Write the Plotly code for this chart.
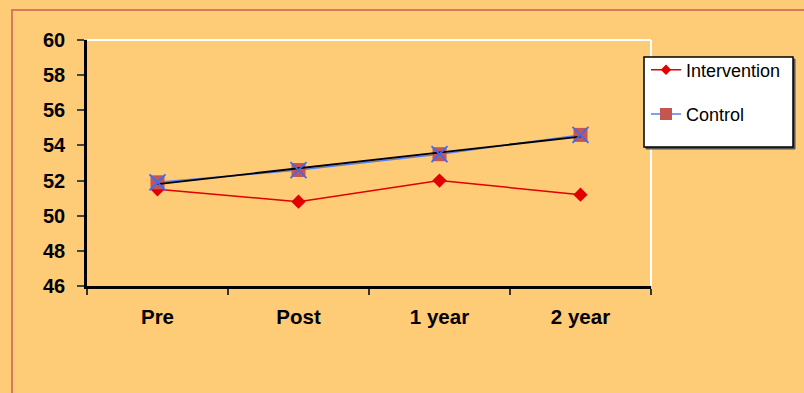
import numpy as np
import plotly.graph_objects as go

categories = ["Pre", "Post", "1 year", "2 year"]
intervention = [51.5, 50.8, 52.0, 51.2]
control = [51.9, 52.6, 53.5, 54.6]
y_ticks = [46, 48, 50, 52, 54, 56, 58, 60]

# linear trend of the control series (as in the source spreadsheet chart)
xi = np.arange(len(control))
slope, icpt = np.polyfit(xi, control, 1)
trend = list(icpt + slope * xi)

BG = "#FECB76"
RED = "#E00000"
SQ = "#C4554F"
BLUE = "#5A7FF0"
W, H = 804, 393
L, R, T, B = 87, 651, 40, 286
pw, ph = R - L, B - T
FONT = "Liberation Sans, Arial"

def px(x):
    return (x - L) / pw

def py(y):
    return (B - y) / ph

fig = go.Figure()
fig.add_trace(go.Scatter(
    x=categories, y=intervention, name="Intervention", mode="lines+markers",
    line=dict(color=RED, width=1.5),
    marker=dict(symbol="diamond", size=11, color=RED),
    showlegend=False))
fig.add_trace(go.Scatter(
    x=categories, y=control, name="Control", mode="lines+markers",
    line=dict(color=BLUE, width=1.5),
    marker=dict(symbol="square", size=14, color=SQ),
    showlegend=False))
fig.add_trace(go.Scatter(
    x=categories, y=trend, mode="lines", showlegend=False,
    line=dict(color="black", width=1.8), hoverinfo="skip"))
fig.add_trace(go.Scatter(
    x=categories, y=control, mode="markers", showlegend=False,
    marker=dict(symbol="x-thin", size=16, line=dict(color="#3A6BFF", width=1.8))))
# legend entries (smaller symbols, as in the source legend)
fig.add_trace(go.Scatter(
    x=[None], y=[None], name="Intervention", mode="lines+markers",
    line=dict(color=RED, width=1.5),
    marker=dict(symbol="diamond", size=8, color=RED), legendgroup="a"))
fig.add_trace(go.Scatter(
    x=[None], y=[None], name="Control", mode="lines+markers",
    line=dict(color=BLUE, width=1.5),
    marker=dict(symbol="square", size=12, color=SQ), legendgroup="b"))

shapes = [
    # outer frame
    dict(type="rect", xref="paper", yref="paper", x0=px(12), x1=px(W + 20),
         y0=py(H + 20), y1=py(10), line=dict(color="#D9785C", width=2),
         fillcolor="rgba(0,0,0,0)", layer="below"),
    # white top and right border of plot area
    dict(type="line", xref="paper", yref="paper", x0=0, x1=1, y0=1, y1=1,
         line=dict(color="white", width=2)),
    dict(type="line", xref="paper", yref="paper", x0=1, x1=1, y0=0, y1=1,
         line=dict(color="white", width=2)),
    # legend box with shadow
    dict(type="rect", xref="paper", yref="paper", x0=px(646), x1=px(795),
         y0=py(149), y1=py(59), line=dict(color="#555", width=1),
         fillcolor="#555", layer="above"),
    dict(type="rect", xref="paper", yref="paper", x0=px(644), x1=px(793),
         y0=py(147), y1=py(57), line=dict(color="black", width=1.5),
         fillcolor="white", layer="above"),
]

fig.update_layout(
    width=W, height=H,
    margin=dict(l=L, r=W - R, t=T, b=H - B),
    paper_bgcolor=BG, plot_bgcolor=BG,
    shapes=shapes,
    showlegend=True,
    legend=dict(
        x=px(646), y=py(51.5), xanchor="left", yanchor="top",
        bgcolor="rgba(0,0,0,0)", borderwidth=0,
        font=dict(family=FONT, size=18, color="black"),
        tracegroupgap=18, itemwidth=30,
    ),
    xaxis=dict(
        type="category", range=[-0.5, 3.5], tickson="boundaries",
        showline=True, linecolor="black", linewidth=2.5,
        ticks="outside", ticklen=6, tickcolor="#333", tickwidth=1.5,
        showgrid=False, zeroline=False, ticklabelstandoff=11,
        tickfont=dict(family=FONT, size=20.5, color="black", weight="bold"),
    ),
    yaxis=dict(
        range=[46, 60], tickvals=y_ticks,
        showline=True, linecolor="black", linewidth=2.5,
        ticks="outside", ticklen=7, tickcolor="#444", tickwidth=1.5,
        showgrid=False, zeroline=False, ticklabelstandoff=8,
        tickfont=dict(family=FONT, size=20, color="black", weight="bold"),
    ),
)

fig.write_html("out.html")
